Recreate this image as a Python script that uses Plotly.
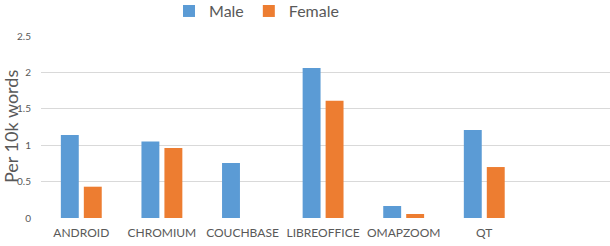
import plotly.graph_objects as go

categories = ["ANDROID", "CHROMIUM", "COUCHBASE", "LIBREOFFICE", "OMAPZOOM", "QT"]
male = [1.14, 1.05, 0.755, 2.06, 0.165, 1.21]
female = [0.43, 0.96, 0.0, 1.61, 0.055, 0.70]
y_ticks = [0, 0.5, 1, 1.5, 2, 2.5]
y_tick_labels = ["0", "0.5", "1", "1.5", "2", "2.5"]

FONT = "Lato"
fig = go.Figure()
fig.add_trace(go.Bar(name="Male", x=list(range(len(categories))), y=male,
                     marker=dict(color="#5b9bd5", line=dict(width=0))))
fig.add_trace(go.Bar(name="Female", x=list(range(len(categories))), y=female,
                     marker=dict(color="#ed7d31", line=dict(width=0))))

fig.update_layout(
    width=610, height=246,
    margin=dict(l=41, r=0, t=36, b=28),
    paper_bgcolor="white", plot_bgcolor="white",
    barmode="group", bargap=0.43, bargroupgap=0.22,
    font=dict(family=FONT, color="#595959"),
    showlegend=True,
    legend=dict(orientation="h", x=0.225, xanchor="left", y=0.955, yanchor="middle",
                yref="container", font=dict(size=16, color="#595959"),
                itemwidth=30, tracegroupgap=0, bgcolor="rgba(0,0,0,0)"),
    xaxis=dict(range=[-0.5, 6.56], tickmode="array", tickvals=list(range(len(categories))),
               ticktext=categories, showgrid=False, zeroline=False, showline=False,
               tickfont=dict(size=12, color="#595959"), ticks="", ticklen=0,
               ticklabelstandoff=6),
    yaxis=dict(range=[0, 2.5], tickmode="array", tickvals=y_ticks, ticktext=y_tick_labels,
               showgrid=True, gridcolor="#d9d9d9", gridwidth=1, zeroline=False,
               showline=False, tickfont=dict(size=10, color="#595959"), ticks="",
               ticklabelstandoff=9),
)
fig.add_annotation(text="Per 10k words", xref="paper", yref="paper", x=-41/569, xanchor="left",
                   y=0.5, yanchor="middle", textangle=-90, showarrow=False,
                   font=dict(size=18, color="#595959", family=FONT), xshift=-2)
fig.write_html("out.html")
